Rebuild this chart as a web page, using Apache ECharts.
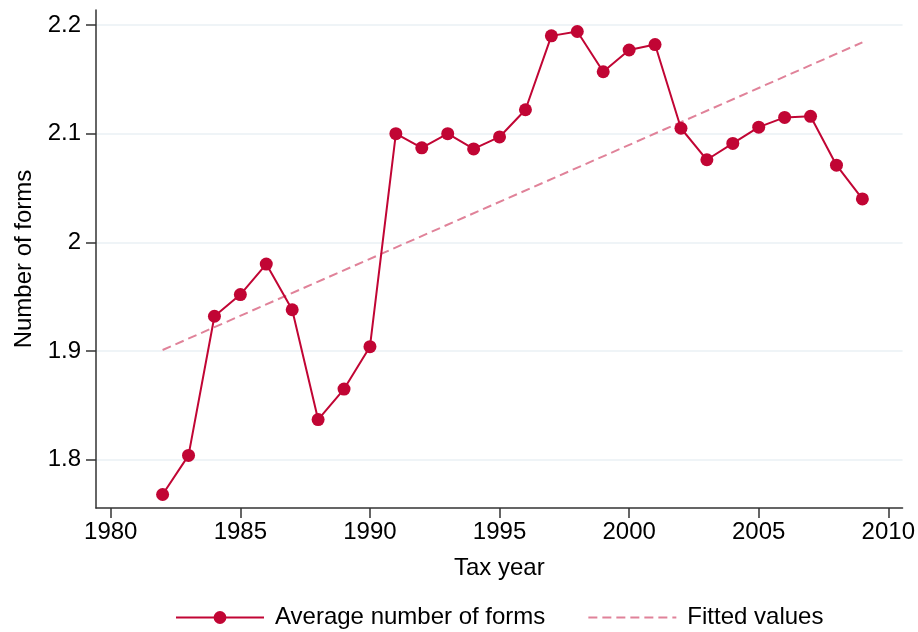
<!DOCTYPE html>
<html>
<head>
<meta charset="utf-8">
<title>Number of forms by tax year</title>
<script src="https://cdn.jsdelivr.net/npm/echarts@6/dist/echarts.min.js"></script>
<style>
  html, body { margin: 0; padding: 0; background: #ffffff; }
  #chart { width: 918px; height: 632px; }
</style>
</head>
<body>
<div id="chart"></div>
<script>
// Tax years and the average number of forms filed per return
const years = [1982, 1983, 1984, 1985, 1986, 1987, 1988, 1989, 1990, 1991,
               1992, 1993, 1994, 1995, 1996, 1997, 1998, 1999, 2000, 2001,
               2002, 2003, 2004, 2005, 2006, 2007, 2008, 2009];
const avgForms = [1.768, 1.804, 1.932, 1.952, 1.980, 1.938, 1.837, 1.865, 1.904, 2.100,
                  2.087, 2.100, 2.086, 2.097, 2.122, 2.190, 2.194, 2.157, 2.177, 2.182,
                  2.105, 2.076, 2.091, 2.106, 2.115, 2.116, 2.071, 2.040];

// Linear fit endpoints
const fittedYears = [1982, 2009];
const fittedValues = [1.901, 2.184];

// Tick labels
const xTicks = [1980, 1985, 1990, 1995, 2000, 2005, 2010];
const yTicks = [1.8, 1.9, 2.0, 2.1, 2.2];

const seriesName = 'Average number of forms';
const fitName = 'Fitted values';

const FONT = "'Liberation Sans', Arial, Helvetica, sans-serif";
const FS = 24;
const MAIN = '#C10534';
const FIT = '#E08299';
const AXIS = '#333333';

const chart = echarts.init(document.getElementById('chart'), null, { renderer: 'canvas' });

const option = {
  backgroundColor: '#ffffff',
  animation: false,
  textStyle: { fontFamily: FONT, color: '#000000' },
  grid: { left: 96, right: 15, top: 10, bottom: 124, containLabel: false },
  xAxis: {
    type: 'value',
    min: 1979.43,
    max: 2010.55,
    name: 'Tax year',
    nameLocation: 'middle',
    nameGap: 48,
    nameTextStyle: { fontFamily: FONT, fontSize: FS, color: '#000000' },
    axisLine: { show: true, onZero: false, lineStyle: { color: AXIS, width: 1.5 } },
    axisTick: { show: true, length: 10, customValues: xTicks, lineStyle: { color: AXIS, width: 1.5 } },
    axisLabel: {
      customValues: xTicks,
      margin: 12,
      fontFamily: FONT, fontSize: FS, color: '#000000',
      formatter: v => String(v)
    },
    splitLine: { show: false }
  },
  yAxis: {
    type: 'value',
    min: 1.7556,
    max: 2.2138,
    name: 'Number of forms',
    nameLocation: 'middle',
    nameRotate: 90,
    nameGap: 60,
    nameTextStyle: { fontFamily: FONT, fontSize: FS, color: '#000000' },
    axisLine: { show: true, onZero: false, lineStyle: { color: AXIS, width: 1.5 } },
    axisTick: { show: true, length: 10, customValues: yTicks, lineStyle: { color: AXIS, width: 1.5 } },
    axisLabel: {
      customValues: yTicks,
      margin: 15,
      fontFamily: FONT, fontSize: FS, color: '#000000',
      formatter: v => String(Math.round(v * 10) / 10)
    },
    splitLine: { show: true, lineStyle: { color: '#EAF1F4', width: 1.5 } }
  },
  legend: {
    left: 170,
    top: 599,
    itemWidth: 88,
    itemHeight: 16,
    itemGap: 42,
    textStyle: { fontFamily: FONT, fontSize: FS, color: '#000000', lineHeight: 27, padding: [0, 0, 0, 6] },
    data: [
      { name: seriesName },
      { name: fitName, itemStyle: { opacity: 0 } }
    ]
  },
  series: [
    {
      name: seriesName,
      type: 'line',
      data: years.map((y, i) => [y, avgForms[i]]),
      symbol: 'circle',
      symbolSize: 13,
      showAllSymbol: true,
      lineStyle: { color: MAIN, width: 2 },
      itemStyle: { color: MAIN, borderWidth: 0 },
      z: 3
    },
    {
      name: fitName,
      type: 'line',
      data: fittedYears.map((y, i) => [y, fittedValues[i]]),
      symbol: 'none',
      lineStyle: { color: FIT, width: 2, type: [9, 5] },
      itemStyle: { color: FIT },
      z: 2
    }
  ]
};

chart.setOption(option);
</script>
</body>
</html>
